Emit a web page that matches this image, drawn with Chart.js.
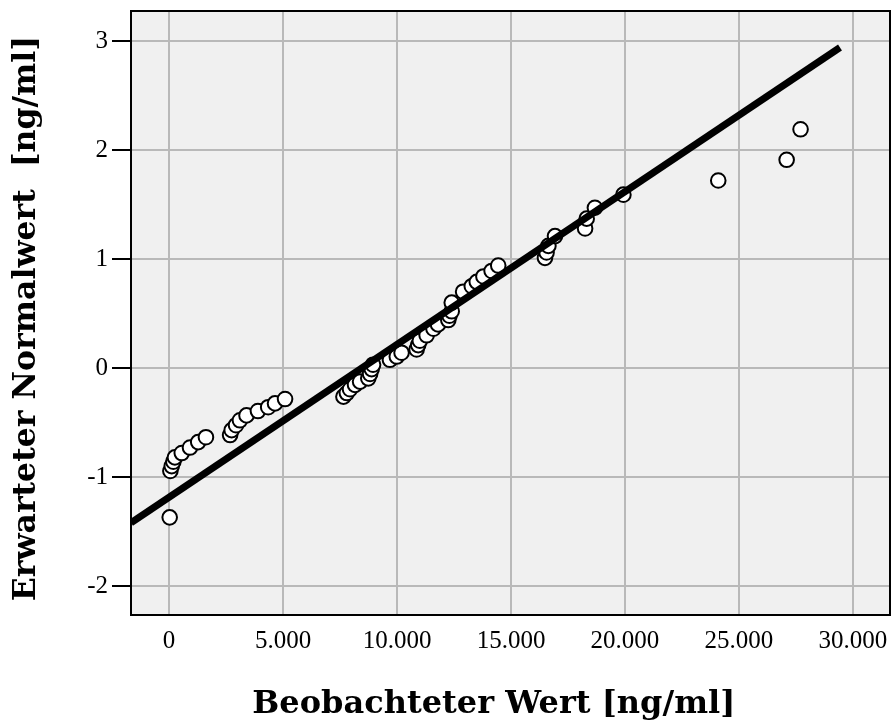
<!DOCTYPE html>
<html>
<head>
<meta charset="utf-8">
<script src="https://cdn.jsdelivr.net/npm/chart.js@4.4.1/dist/chart.umd.min.js"></script>
<style>
  html, body { margin: 0; padding: 0; background: #fff; }
  #wrap { width: 891px; height: 724px; }
</style>
</head>
<body>
<div id="wrap"><canvas id="chart" width="891" height="724"></canvas></div>
<script>
const observed = [
  30, 60, 120, 190, 260, 560, 920, 1280, 1620,
  2680, 2750, 2940, 3110, 3400, 3900, 4350, 4650, 5090,
  7650, 7800, 7940, 8160, 8380, 8740, 8820, 8890, 8950,
  9690, 9990, 10200, 10860, 10930, 11000, 11300, 11600, 11800,
  12250, 12300, 12400, 12400, 12900, 13280, 13500, 13790, 14150, 14440,
  16490, 16560, 16640, 16930, 18250, 18320, 18680, 19930,
  24090, 27090, 27700
]
const expected = [
  -1.37, -0.945, -0.90, -0.86, -0.82, -0.78, -0.73, -0.68, -0.635,
  -0.615, -0.57, -0.525, -0.48, -0.435, -0.395, -0.36, -0.325, -0.285,
  -0.263, -0.23, -0.195, -0.155, -0.125, -0.095, -0.055, -0.01, 0.03,
  0.075, 0.105, 0.14, 0.17, 0.21, 0.25, 0.30, 0.36, 0.40,
  0.44, 0.48, 0.52, 0.60, 0.70, 0.75, 0.79, 0.84, 0.89, 0.94,
  1.01, 1.06, 1.12, 1.21, 1.28, 1.37, 1.47, 1.59,
  1.72, 1.91, 2.19
]

// Reference line
const fitX = [-1667, 29430]
const fitY = [-1.42, 2.94]

const xTicks = [0, 5000, 10000, 15000, 20000, 25000, 30000]
const yTicks = [-2, -1, 0, 1, 2, 3]

// trailing no-break spaces nudge the centred titles like in the original
const xTitle = 'Beobachteter Wert [ng/ml]\u00a0\u00a0\u00a0'
const yTitle = 'Erwarteter Normalwert  [ng/ml]\u00a0'

const points = observed.map((v, i) => ({ x: v, y: expected[i] }))
const fitLine = fitX.map((v, i) => ({ x: v, y: fitY[i] }))

// grey plot background and black frame
const plotFrame = {
  id: 'plotFrame',
  beforeDraw(chart) {
    const { ctx, chartArea: a } = chart
    ctx.save()
    ctx.fillStyle = '#f0f0f0'
    ctx.fillRect(a.left, a.top, a.right - a.left, a.bottom - a.top)
    ctx.restore()
  },
  afterDraw(chart) {
    const { ctx, chartArea: a } = chart
    ctx.save()
    ctx.strokeStyle = '#000'
    ctx.lineWidth = 2
    ctx.strokeRect(a.left, a.top, a.right - a.left, a.bottom - a.top)
    ctx.restore()
  },
}

// keep the plot area where it is, no extra room for edge labels
const noPadding = (s) => {
  s.paddingTop = 0
  s.paddingBottom = 0
  s.paddingLeft = 0
  s.paddingRight = 0
}

const fmt = (v) => String(v).replace(/\B(?=(\d{3})+(?!\d))/g, '.')
const tickFont = { family: 'Liberation Serif', size: 25 }
const xTitleFont = { family: 'DejaVu Serif', size: 32, weight: 'bold' }
const yTitleFont = { family: 'DejaVu Serif', size: 31.5, weight: 'bold' }

new Chart(document.getElementById('chart'), {
  type: 'scatter',
  data: {
    datasets: [
      {
        label: 'Linie',
        data: fitLine,
        showLine: true,
        borderColor: '#000',
        borderWidth: 7,
        pointRadius: 0,
        order: 0,
      },
      {
        label: 'Werte',
        data: points,
        backgroundColor: '#fff',
        borderColor: '#000',
        borderWidth: 2,
        pointRadius: 7.3,
        order: 1,
      },
    ],
  },
  options: {
    responsive: false,
    animation: false,
    devicePixelRatio: 1,
    layout: { autoPadding: false, padding: { top: 11, right: 1, left: 0, bottom: 0 } },
    plugins: {
      legend: { display: false },
      tooltip: { enabled: false },
    },
    scales: {
      x: {
        type: 'linear',
        min: -1667,
        max: 31623,
        afterFit: (s) => { s.height = 109; noPadding(s) },
        afterBuildTicks: (s) => { s.ticks = xTicks.map((v) => ({ value: v })) },
        // invisible tick marks give the gap between frame and labels
        grid: {
          color: '#b9b9b9',
          lineWidth: 2,
          drawTicks: true,
          tickLength: 11,
          tickColor: 'rgba(0,0,0,0)',
        },
        border: { display: false },
        ticks: {
          font: tickFont,
          color: '#000',
          padding: 0,
          maxRotation: 0,
          callback: (v) => fmt(v),
        },
        title: { display: true, text: xTitle, font: xTitleFont, color: '#000', padding: 0 },
      },
      y: {
        type: 'linear',
        min: -2.266,
        max: 3.275,
        afterFit: (s) => { s.width = 131; noPadding(s) },
        afterBuildTicks: (s) => { s.ticks = yTicks.map((v) => ({ value: v })) },
        grid: {
          color: '#b9b9b9',
          lineWidth: 2,
          drawTicks: true,
          tickLength: 19,
          tickColor: '#000',
          tickWidth: 2,
        },
        border: { display: false },
        ticks: {
          font: tickFont,
          color: '#000',
          padding: 4,
          callback: (v) => String(v),
        },
        title: { display: true, text: yTitle, font: yTitleFont, color: '#000', padding: { top: 8, bottom: 0 } },
      },
    },
  },
  plugins: [plotFrame],
})
</script>
</body>
</html>
